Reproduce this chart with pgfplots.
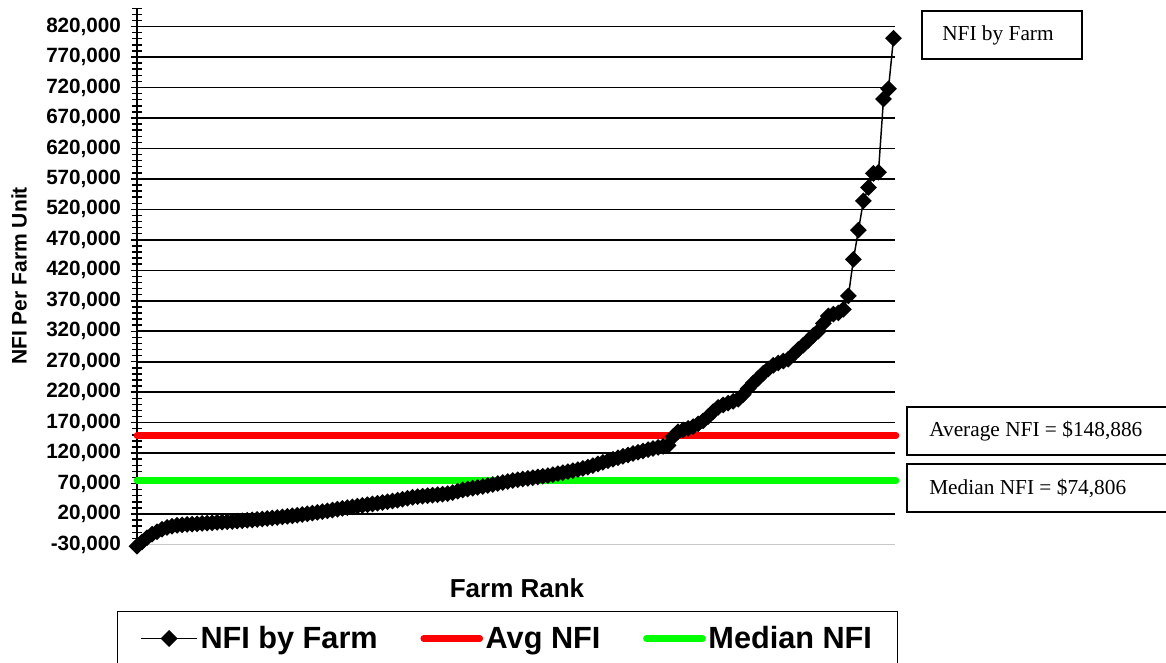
\documentclass[border=0pt]{standalone}
\usepackage{pgfplots}
\usepackage{pgfplotstable}
\pgfplotsset{compat=1.18}
\usepackage{fontspec}
\setmainfont{Liberation Sans}
\newfontfamily\timesfont{Liberation Serif}

\pgfplotstableread{
rank nfi
1 -33000
2 -26000
3 -19000
4 -13000
5 -9000
6 -5000
7 -2000
8 0
9 1500
10 2300
11 2900
12 3400
13 4000
14 4500
15 5000
16 5600
17 6200
18 6800
19 7300
20 7800
21 8400
22 9000
23 9700
24 10400
25 11200
26 12000
27 12800
28 13600
29 14400
30 15300
31 16200
32 17100
33 18000
34 19200
35 20400
36 21600
37 22800
38 24000
39 25300
40 26600
41 27900
42 29200
43 30500
44 31800
45 33000
46 34200
47 35400
48 36600
49 37800
50 39000
51 40200
52 41500
53 42800
54 44200
55 45800
56 47400
57 48500
58 49300
59 50100
60 50900
61 51700
62 52500
63 53400
64 55300
65 57400
66 59500
67 61000
68 62400
69 63700
70 65200
71 66800
72 68400
73 70100
74 71800
75 73500
76 75000
77 76300
78 77400
79 78500
80 79700
81 80900
82 82000
83 83100
84 84600
85 86200
86 87800
87 89500
88 91200
89 93000
90 94800
91 97000
92 99500
93 102200
94 104800
95 107400
96 110000
97 112400
98 114700
99 116900
100 119200
101 121500
102 123600
103 125700
104 127600
105 129400
106 131000
107 132800
108 147000
109 155000
110 158000
111 160500
112 163500
113 168000
114 173000
115 180000
116 188000
117 195000
118 199000
119 202000
120 205000
121 208500
122 216000
123 226000
124 235000
125 243000
126 251000
127 258000
128 264000
129 268000
130 271000
131 274000
132 282000
133 290000
134 297000
135 305000
136 313000
137 320000
138 333000
139 345000
140 348000
141 350000
142 356000
143 378000
144 438000
145 486000
146 534000
147 556000
148 579000
149 581000
150 701000
151 718000
152 801000
}\farmdata

\begin{document}
\begin{tikzpicture}
\useasboundingbox (0,0) rectangle (874.5pt,497.25pt);
\begin{axis}[
  at={(102.75pt,88.875pt)}, anchor=south west,
  scale only axis, width=568.5pt, height=402.15pt,
  xmin=1, xmax=152.3, ymin=-30000, ymax=850000,
  clip=false,
  axis x line*=bottom, axis y line*=left,
  x axis line style={draw=black!22, line width=1pt},
  y axis line style={draw=black, line width=1.1pt},
  xtick=\empty,
  ytick={20000,70000,...,820000},
  extra y ticks={-30000},
  extra y tick style={grid=none},
  minor ytick={-20000,-10000,...,850000},
  scaled y ticks=false,
  tick align=center,
  major tick length=9pt, minor tick length=7pt,
  tick style={black, line width=1.1pt},
  ymajorgrids,
  major grid style={black, line width=1.2pt},
  yticklabel style={font=\bfseries\fontsize{15.5}{18}\selectfont, xshift=-4pt},
  /pgf/number format/.cd, fixed, 1000 sep={,}, assume math mode=true,
  /pgfplots/.cd,
  legend columns=3,
  legend cell align=left,
  legend image code/.code={\draw[#1, mark repeat=2, mark phase=2] plot coordinates {(0pt,0pt) (21pt,0pt) (42pt,0pt)};},
  legend style={at={(axis description cs:-0.0264,-0.124)}, anchor=north west,
    draw=black, line width=1.1pt, inner xsep=17pt, inner ysep=9pt,
    font=\bfseries\fontsize{23}{27}\selectfont,
    nodes={inner sep=2pt},
    /tikz/every even column/.append style={column sep=30pt}},
]
\addplot[black, line width=1.1pt, mark=square*, mark size=3.9pt, mark options={rotate=45, solid, fill=black}] table[x=rank, y=nfi]{\farmdata};
\addlegendentry{NFI by Farm}
\addplot[red, line width=5pt, line cap=round, no markers] coordinates {(1,148886) (152.5,148886)};
\addlegendentry{Avg NFI}
\addplot[green, line width=5pt, line cap=round, no markers] coordinates {(1,74806) (152.5,74806)};
\addlegendentry{Median NFI}
\end{axis}
\begin{scope}[shift={(0pt,497.25pt)}, x=0.75pt, y=-0.75pt]
\node[font=\bfseries\fontsize{15.8}{18}\selectfont, rotate=90] at (19,276) {NFI Per Farm Unit};
\node[font=\bfseries\fontsize{19.5}{22}\selectfont] at (517,588) {Farm Rank};
\draw[line width=1.5pt] (922,11) rectangle (1082,59);
\node[anchor=west, inner sep=0pt, font=\timesfont\fontsize{16}{19}\selectfont] at (942,35) {NFI by Farm};
\draw[line width=1.5pt] (907,407) rectangle (1172,455);
\node[anchor=west, inner sep=0pt, font=\timesfont\fontsize{16}{19}\selectfont] at (929,431) {Average NFI = \$148,886};
\draw[line width=1.5pt] (907,464) rectangle (1172,512);
\node[anchor=west, inner sep=0pt, font=\timesfont\fontsize{16}{19}\selectfont] at (929,488) {Median NFI = \$74,806};
\end{scope}
\end{tikzpicture}
\end{document}
